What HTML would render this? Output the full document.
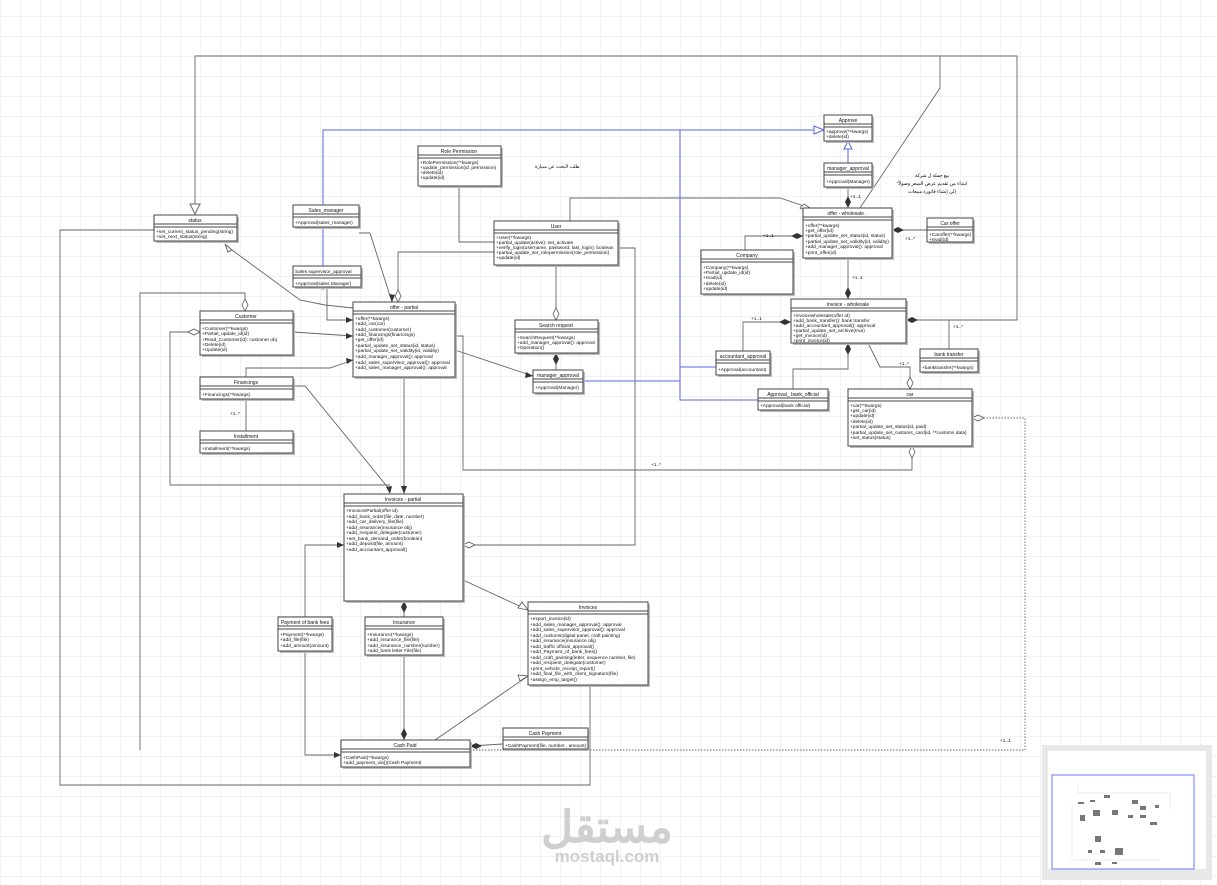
<!DOCTYPE html>
<html><head><meta charset="utf-8"><style>
html,body{margin:0;padding:0;background:#fff}
svg{display:block}
text{font-family:"Liberation Sans","Noto Sans CJK SC",sans-serif;font-size:4.8px;fill:#111}
.t{text-anchor:middle;font-size:5px}
.b{fill:#fff;stroke:#444;stroke-width:1}
.s{fill:#bbb}
.l{fill:none;stroke:#666;stroke-width:0.9}
.bl{fill:none;stroke:#5566ee;stroke-width:1}
</style></head><body>
<svg width="1217" height="885" viewBox="0 0 1217 885" xmlns="http://www.w3.org/2000/svg">
<defs>
<pattern id="g" width="20" height="20" patternUnits="userSpaceOnUse" x="0" y="-4">
<path d="M20 0H0V20" fill="none" stroke="#e4e4e4" stroke-width="1"/>
</pattern>
</defs>
<rect width="1217" height="885" fill="url(#g)"/>

<polyline class="l" points="195,212 195,56 940,56 940,88 860,208"/>
<polyline class="l" points="906,320 1017,320 1017,56 900,56"/>
<polygon points="190,204 200,204 195,214" fill="#fff" stroke="#666"/>
<polyline class="l" points="155,230 60,230 60,785 590,785 590,686"/>
<polyline class="l" points="140,750 140,293 245,293 245,309"/>
<polyline class="l" points="200,332 170,332 170,485 390,485"/>
<polyline class="l" points="293,332 353,336"/>
<polyline class="l" points="232,250 300,300 325,305 353,308"/>
<polygon points="225,244 232,250 228,252" fill="#fff" stroke="#666"/>
<polyline class="l" points="359,233 370,233 392,302"/>
<polyline class="l" points="327,287 327,320 353,320"/>
<polyline class="l" points="246,377 246,368 330,368 353,360"/>
<polyline class="l" points="293,386 305,386 390,490"/>
<polyline class="l" points="246,399 246,431"/>
<polyline class="l" points="404,377 404,494"/>
<polyline class="l" points="455,336 463,336 463,470 912,470 912,446"/>
<polyline class="l" points="455,350 533,376"/>
<polyline class="l" points="459,186 459,242 494,242"/>
<polyline class="l" points="494,252 398,252 398,302"/>
<polyline class="l" points="556,265 556,320"/>
<polyline class="l" points="556,353 556,370"/>
<polyline class="l" points="618,248 635,248 635,545 463,545"/>
<polyline class="l" points="570,221 570,198 780,198 810,208"/>
<polyline class="l" points="463,580 528,610"/>
<polyline class="l" points="404,601 404,617"/>
<polyline class="l" points="404,655 404,740"/>
<polyline class="l" points="305,617 305,545 344,545"/>
<polyline class="l" points="305,651 305,755 341,755"/>
<polyline class="l" points="435,740 528,676"/>
<polyline class="l" points="503,744 470,746"/>
<polyline class="l" points="848,187 848,208"/>
<polyline class="l" points="848,258 848,299"/>
<polyline class="l" points="927,230 892,230"/>
<polyline class="l" points="745,250 745,236 803,236"/>
<polyline class="l" points="743,351 743,322 791,322"/>
<polyline class="l" points="949,349 949,320 906,320"/>
<polyline class="l" points="793,389 793,369 848,369 848,343"/>
<polyline class="l" points="868,343 880,367 910,367 910,389"/>
<polyline class="l" points="470,750 1025,750 1025,418 972,418" stroke-dasharray="1.5,1.5"/>
<polyline class="bl" points="323,290 323,130 820,130"/>
<polyline class="bl" points="680,130 680,400 758,400"/>
<polyline class="bl" points="583,381 680,381"/>
<polyline class="bl" points="680,367 716,367"/>
<polyline class="bl" points="848,163 848,144"/>
<polygon points="814,126 824,130 814,134" fill="#fff" stroke="#5566ee"/>
<polygon points="844,149 848,141 852,149" fill="#fff" stroke="#5566ee"/>
<g fill="#333">
<polygon points="392,302 389,294 395,295"/>
<polygon points="353,320 346,317 346,323"/>
<polygon points="353,336 346,333 346,339"/>
<polygon points="353,360 346,358 347,364"/>
<polygon points="533,376 526,372 525,378"/>
<polygon points="390,494 386,487 392,486"/>
<polygon points="404,494 401,486 407,486"/>
<polygon points="344,545 337,542 337,548"/>
<polygon points="341,755 334,752 334,758"/>
<polygon points="404,601 401,607 404,613 407,607"/>
<polygon points="404,740 401,734 404,728 407,734"/>
<polygon points="470,746 476,743 482,746 476,749"/>
<polygon points="556,353 553,359 556,365 559,359"/>
<polygon points="848,208 845,202 848,196 851,202"/>
<polygon points="848,299 845,293 848,287 851,293"/>
<polygon points="892,230 898,227 904,230 898,233"/>
<polygon points="803,236 797,233 791,236 797,239"/>
<polygon points="791,322 785,319 779,322 785,325"/>
<polygon points="906,320 912,317 918,320 912,323"/>
<polygon points="848,343 845,349 848,355 851,349"/>
</g>
<g fill="#fff" stroke="#555" stroke-width="0.8">
<polygon points="245,311 242,305 245,299 248,305"/>
<polygon points="200,332 194,329 188,332 194,335"/>
<polygon points="398,302 395,296 398,290 401,296"/>
<polygon points="556,320 553,314 556,308 559,314"/>
<polygon points="463,545 469,542 475,545 469,548"/>
<polygon points="910,389 907,383 910,377 913,383"/>
<polygon points="912,446 909,452 912,458 915,452"/>
<polygon points="810,208 804,204 800,208 806,211"/>
<polygon points="972,418 978,415 984,418 978,421"/>
<polygon points="528,610 518,608 522,602"/>
<polygon points="528,676 520,681 518,675"/>
</g>
<g font-size="4px">
<text x="850" y="198">+1..1</text><text x="852" y="279">+1..1</text>
<text x="905" y="240">+1..*</text><text x="763" y="237">+1..1</text>
<text x="751" y="320">+1..1</text><text x="953" y="328">+1..*</text>
<text x="899" y="365">+1..*</text><text x="651" y="466">+1..*</text>
<text x="230" y="415">+1..*</text><text x="1000" y="742">+1..1</text>
</g>
<text x="535" y="168" font-size="6px" fill="#555">طلب البحث عن سيارة</text>
<text x="932" y="177" font-size="6px" text-anchor="middle" fill="#555">بيع جملة ل شركة</text>
<text x="932" y="185" font-size="6px" text-anchor="middle" fill="#555">"ابتداء من تقديم عرض السعر وصولاً</text>
<text x="932" y="193" font-size="6px" text-anchor="middle" fill="#555">إلى إنشاء فاتورة مبيعات</text>

<g id="boxes">
<rect class="s" x="156" y="217" width="83" height="26"/><rect class="b" x="154" y="215" width="83" height="26"/>
<line x1="154" y1="224" x2="237" y2="224" stroke="#444"/><line x1="154" y1="227" x2="237" y2="227" stroke="#444"/>
<text class="t" x="195" y="222">status</text>
<text x="156" y="233">+set_current_status_pending(string)</text><text x="156" y="238">+set_next_status(string)</text>

<rect class="s" x="295" y="207" width="66" height="22"/><rect class="b" x="293" y="205" width="66" height="22"/>
<line x1="293" y1="214" x2="359" y2="214" stroke="#444"/><line x1="293" y1="217" x2="359" y2="217" stroke="#444"/>
<text class="t" x="326" y="212">Sales_manager</text><text x="295" y="224">+Approval(sales_manager)</text>

<rect class="s" x="295" y="268" width="68" height="21"/><rect class="b" x="293" y="266" width="68" height="21"/>
<line x1="293" y1="275" x2="361" y2="275" stroke="#444"/><line x1="293" y1="278" x2="361" y2="278" stroke="#444"/>
<text x="295" y="273">Sales supervisor_approval</text><text x="295" y="285">+Approval(sales Manager)</text>

<rect class="s" x="420" y="148" width="83" height="40"/><rect class="b" x="418" y="146" width="83" height="40"/>
<line x1="418" y1="155" x2="501" y2="155" stroke="#444"/><line x1="418" y1="158" x2="501" y2="158" stroke="#444"/>
<text class="t" x="459" y="153">Role Permission</text>
<text x="420" y="164">+RolePermission(**kwargs)</text><text x="420" y="169">+update_permission(id, permission)</text><text x="420" y="174">+delete(id)</text><text x="420" y="179">+update(id)</text>

<rect class="s" x="496" y="223" width="124" height="44"/><rect class="b" x="494" y="221" width="124" height="44"/>
<line x1="494" y1="230" x2="618" y2="230" stroke="#444"/><line x1="494" y1="233" x2="618" y2="233" stroke="#444"/>
<text class="t" x="556" y="228">User</text>
<text x="496" y="239">+User(**kwargs)</text><text x="496" y="244">+partial_update(active): set_activate</text><text x="496" y="249">+verify_login(username, password, last_login): boolean</text><text x="496" y="254">+partial_update_set_rolepermission(role_permission)</text><text x="496" y="259">+update(id)</text>

<rect class="s" x="355" y="304" width="102" height="75"/><rect class="b" x="353" y="302" width="102" height="75"/>
<line x1="353" y1="311" x2="455" y2="311" stroke="#444"/><line x1="353" y1="314" x2="455" y2="314" stroke="#444"/>
<text class="t" x="404" y="309">offer - partial</text>
<text x="355" y="320">+offer(**kwargs)</text><text x="355" y="325">+add_car(car)</text><text x="355" y="331">+add_customer(customer)</text><text x="355" y="336">+add_financings(financings)</text><text x="355" y="341">+get_offer(id)</text><text x="355" y="347">+partial_update_set_status(id, status)</text><text x="355" y="352">+partial_update_set_validity(id, validity)</text><text x="355" y="358">+add_manager_approval(): approval</text><text x="355" y="364">+add_sales_supervisor_approval(): approval</text><text x="355" y="369">+add_sales_manager_approval(): approval</text>

<rect class="s" x="202" y="313" width="93" height="44"/><rect class="b" x="200" y="311" width="93" height="44"/>
<line x1="200" y1="320" x2="293" y2="320" stroke="#444"/><line x1="200" y1="323" x2="293" y2="323" stroke="#444"/>
<text class="t" x="246" y="318">Customer</text>
<text x="202" y="330">+Customer(**kwargs)</text><text x="202" y="335">+Partial_update_id(id)</text><text x="202" y="341">+Read_Customer(id): customer obj</text><text x="202" y="346">+Delete(id)</text><text x="202" y="351">+Update(id)</text>

<rect class="s" x="202" y="379" width="93" height="22"/><rect class="b" x="200" y="377" width="93" height="22"/>
<line x1="200" y1="386" x2="293" y2="386" stroke="#444"/><line x1="200" y1="389" x2="293" y2="389" stroke="#444"/>
<text class="t" x="246" y="384">Financings</text><text x="202" y="396">+Financings(**kwargs)</text>

<rect class="s" x="202" y="433" width="93" height="22"/><rect class="b" x="200" y="431" width="93" height="22"/>
<line x1="200" y1="440" x2="293" y2="440" stroke="#444"/><line x1="200" y1="443" x2="293" y2="443" stroke="#444"/>
<text class="t" x="246" y="438">Installment</text><text x="202" y="450">+Installment(**kwargs)</text>

<rect class="s" x="517" y="322" width="83" height="33"/><rect class="b" x="515" y="320" width="83" height="33"/>
<line x1="515" y1="329" x2="598" y2="329" stroke="#444"/><line x1="515" y1="332" x2="598" y2="332" stroke="#444"/>
<text class="t" x="556" y="327">Search request</text>
<text x="517" y="339">+SearchRequest(**kwargs)</text><text x="517" y="344">+add_manager_approval(): approval</text><text x="517" y="349">+Operation()</text>

<rect class="s" x="535" y="372" width="50" height="23"/><rect class="b" x="533" y="370" width="50" height="23"/>
<line x1="533" y1="379" x2="583" y2="379" stroke="#444"/><line x1="533" y1="382" x2="583" y2="382" stroke="#444"/>
<text class="t" x="558" y="377">manager_approval</text><text x="535" y="389">+Approval(Manager)</text>

<rect class="s" x="826" y="117" width="48" height="26"/><rect class="b" x="824" y="115" width="48" height="26"/>
<line x1="824" y1="124" x2="872" y2="124" stroke="#444"/><line x1="824" y1="127" x2="872" y2="127" stroke="#444"/>
<text class="t" x="848" y="122">Approve</text><text x="826" y="133">+approve(**kwargs)</text><text x="826" y="138">+delete(id)</text>

<rect class="s" x="826" y="165" width="48" height="24"/><rect class="b" x="824" y="163" width="48" height="24"/>
<line x1="824" y1="172" x2="872" y2="172" stroke="#444"/><line x1="824" y1="175" x2="872" y2="175" stroke="#444"/>
<text class="t" x="848" y="170">manager_approval</text><text x="826" y="183">+Approval(Manager)</text>

<rect class="s" x="805" y="210" width="89" height="50"/><rect class="b" x="803" y="208" width="89" height="50"/>
<line x1="803" y1="217" x2="892" y2="217" stroke="#444"/><line x1="803" y1="220" x2="892" y2="220" stroke="#444"/>
<text class="t" x="847" y="215">offer - wholesale .</text>
<text x="805" y="227">+offer(**kwargs)</text><text x="805" y="232">+get_offer(id)</text><text x="805" y="237">+partial_update_set_status(id, status)</text><text x="805" y="243">+partial_update_set_validity(id, validity)</text><text x="805" y="248">+add_manager_approval(): approval</text><text x="805" y="254">+print_offer(id)</text>

<rect class="s" x="929" y="220" width="46" height="24"/><rect class="b" x="927" y="218" width="46" height="24"/>
<line x1="927" y1="227" x2="973" y2="227" stroke="#444"/><line x1="927" y1="230" x2="973" y2="230" stroke="#444"/>
<text class="t" x="950" y="225">Car offer</text><text x="929" y="236">+Caroffer(**kwargs)</text><text x="929" y="241">+read(id)</text>

<rect class="s" x="703" y="252" width="92" height="44"/><rect class="b" x="701" y="250" width="92" height="44"/>
<line x1="701" y1="259" x2="793" y2="259" stroke="#444"/><line x1="701" y1="262" x2="793" y2="262" stroke="#444"/>
<text class="t" x="747" y="257">Company</text>
<text x="703" y="269">+Company(**kwargs)</text><text x="703" y="274">+Partial_update_id(id)</text><text x="703" y="279">+read(id)</text><text x="703" y="285">+delete(id)</text><text x="703" y="290">+update(id)</text>

<rect class="s" x="793" y="301" width="115" height="44"/><rect class="b" x="791" y="299" width="115" height="44"/>
<line x1="791" y1="308" x2="906" y2="308" stroke="#444"/><line x1="791" y1="311" x2="906" y2="311" stroke="#444"/>
<text class="t" x="848" y="306">invoice - wholesale</text>
<text x="793" y="317">+invoicewholesale(offer id)</text><text x="793" y="322">+add_bank_transfer(): bank transfer</text><text x="793" y="327">+add_accountant_approval(): approval</text><text x="793" y="332">+partial_update_set_archive(true)</text><text x="793" y="337">+get_invoice(id)</text>
<text x="793" y="342">+print_invoice(id)</text>

<rect class="s" x="718" y="353" width="54" height="24"/><rect class="b" x="716" y="351" width="54" height="24"/>
<line x1="716" y1="360" x2="770" y2="360" stroke="#444"/><line x1="716" y1="363" x2="770" y2="363" stroke="#444"/>
<text class="t" x="743" y="358">accountant_approval</text><text x="718" y="371">+Approval(accountant)</text>

<rect class="s" x="922" y="351" width="58" height="23"/><rect class="b" x="920" y="349" width="58" height="23"/>
<line x1="920" y1="358" x2="978" y2="358" stroke="#444"/><line x1="920" y1="361" x2="978" y2="361" stroke="#444"/>
<text class="t" x="949" y="356">bank transfer</text><text x="922" y="369">+banktransfer(**kwargs)</text>

<rect class="s" x="760" y="391" width="70" height="21"/><rect class="b" x="758" y="389" width="70" height="21"/>
<line x1="758" y1="398" x2="828" y2="398" stroke="#444"/><line x1="758" y1="401" x2="828" y2="401" stroke="#444"/>
<text class="t" x="793" y="396">Approval_ bank_official</text><text x="760" y="407">+Approval(bank official)</text>

<rect class="s" x="850" y="391" width="124" height="57"/><rect class="b" x="848" y="389" width="124" height="57"/>
<line x1="848" y1="398" x2="972" y2="398" stroke="#444"/><line x1="848" y1="401" x2="972" y2="401" stroke="#444"/>
<text class="t" x="910" y="396">car</text>
<text x="850" y="407">+car(**kwargs)</text><text x="850" y="412">+get_car(id)</text><text x="850" y="417">+update(id)</text><text x="850" y="423">+delete(id)</text><text x="850" y="428">+partial_update_set_status(id, paid)</text><text x="850" y="434">+partial_update_set_customs_card(id, **customs data)</text><text x="850" y="439">+set_status(status)</text>

<rect class="s" x="346" y="496" width="119" height="107"/><rect class="b" x="344" y="494" width="119" height="107"/>
<line x1="344" y1="503" x2="463" y2="503" stroke="#444"/><line x1="344" y1="506" x2="463" y2="506" stroke="#444"/>
<text class="t" x="403" y="501">Invoices - partial</text>
<text x="346" y="512">+InvoicesPartial(offer id)</text><text x="346" y="518">+add_bank_order(file, date, number)</text><text x="346" y="523">+add_car_delivery_file(file)</text><text x="346" y="529">+add_insurance(insurance obj)</text><text x="346" y="534">+add_recipient_delegate(customer)</text><text x="346" y="540">+set_bank_demand_order(boolean)</text><text x="346" y="545">+add_deposit(file, amount)</text><text x="346" y="551">+add_accountant_approval()</text>

<rect class="s" x="530" y="604" width="120" height="83"/><rect class="b" x="528" y="602" width="120" height="83"/>
<line x1="528" y1="611" x2="648" y2="611" stroke="#444"/><line x1="528" y1="614" x2="648" y2="614" stroke="#444"/>
<text class="t" x="588" y="609">Invoices</text>
<text x="530" y="620">+export_invoice(id)</text><text x="530" y="626">+add_sales_manager_approval(): approval</text><text x="530" y="631">+add_sales_supervisor_approval(): approval</text><text x="530" y="637">+add_customs(digital panel, craft painting)</text><text x="530" y="642">+add_insurance(insurance obj)</text><text x="530" y="648">+add_traffic official_approval()</text><text x="530" y="653">+add_Payment_of_bank_fees()</text><text x="530" y="659">+add_craft_painting(letter, sequence number, file)</text><text x="530" y="664">+add_recipient_delegate(customer)</text><text x="530" y="670">+print_vehicle_receipt_report()</text><text x="530" y="675">+add_final_file_with_client_signature(file)</text><text x="530" y="681">+assign_emp_target()</text>

<rect class="s" x="280" y="619" width="54" height="34"/><rect class="b" x="278" y="617" width="54" height="34"/>
<line x1="278" y1="626" x2="332" y2="626" stroke="#444"/><line x1="278" y1="629" x2="332" y2="629" stroke="#444"/>
<text class="t" x="305" y="624">Payment of bank fees</text>
<text x="280" y="636">+Payment(**kwargs)</text><text x="280" y="641">+add_file(file)</text><text x="280" y="647">+add_amount(amount)</text>

<rect class="s" x="367" y="619" width="78" height="38"/><rect class="b" x="365" y="617" width="78" height="38"/>
<line x1="365" y1="626" x2="443" y2="626" stroke="#444"/><line x1="365" y1="629" x2="443" y2="629" stroke="#444"/>
<text class="t" x="404" y="624">Insurance</text>
<text x="367" y="636">+Insurance(**kwargs)</text><text x="367" y="641">+add_insurance_file(file)</text><text x="367" y="647">+add_insurance_number(number)</text><text x="367" y="652">+add_bank letter File(file)</text>

<rect class="s" x="343" y="742" width="129" height="27"/><rect class="b" x="341" y="740" width="129" height="27"/>
<line x1="341" y1="749" x2="470" y2="749" stroke="#444"/><line x1="341" y1="752" x2="470" y2="752" stroke="#444"/>
<text class="t" x="405" y="747">Cash Paid</text>
<text x="343" y="759">+CashPaid(**kwargs)</text><text x="343" y="764">+add_payment_via()(Cash Payment)</text>

<rect class="s" x="505" y="730" width="85" height="21"/><rect class="b" x="503" y="728" width="85" height="21"/>
<line x1="503" y1="737" x2="588" y2="737" stroke="#444"/><line x1="503" y1="740" x2="588" y2="740" stroke="#444"/>
<text class="t" x="545" y="735">Cash Payment</text><text x="505" y="747">+CashPayment(file, number , amount)</text>
</g>

<text x="607" y="842" text-anchor="middle" style="font-size:44px;fill:#cfcfcf;font-weight:bold">مستقل</text>
<text x="607" y="862" text-anchor="middle" style="font-size:17px;fill:#cfcfcf;font-weight:bold">mostaql.com</text>

<rect x="1042" y="745" width="170" height="135" fill="#e8e8e8"/>
<rect x="1048" y="751" width="158" height="118" fill="#fff"/>
<rect x="1052" y="775" width="142" height="94" fill="#fff" stroke="#8090ff" stroke-width="1.2"/>
<g stroke="#ddd" fill="none" stroke-width="0.5">
<polyline points="1078,785 1078,793 1170,793 1170,810"/>
<polyline points="1072,805 1072,860 1160,860"/>
</g>
<g fill="#777">
<rect x="1078" y="802" width="6" height="2"/><rect x="1090" y="800" width="5" height="2"/><rect x="1104" y="795" width="6" height="3"/>
<rect x="1093" y="810" width="7" height="6"/><rect x="1112" y="810" width="6" height="5"/><rect x="1080" y="815" width="5" height="6"/>
<rect x="1132" y="800" width="6" height="4"/><rect x="1140" y="806" width="6" height="4"/><rect x="1155" y="805" width="4" height="3"/>
<rect x="1140" y="815" width="6" height="3"/><rect x="1150" y="822" width="7" height="3"/><rect x="1128" y="815" width="5" height="3"/>
<rect x="1095" y="836" width="6" height="6"/><rect x="1088" y="850" width="4" height="3"/><rect x="1100" y="850" width="5" height="3"/>
<rect x="1115" y="848" width="8" height="7"/><rect x="1095" y="862" width="6" height="3"/><rect x="1112" y="862" width="5" height="2"/>
</g>
</svg>
</body></html>
